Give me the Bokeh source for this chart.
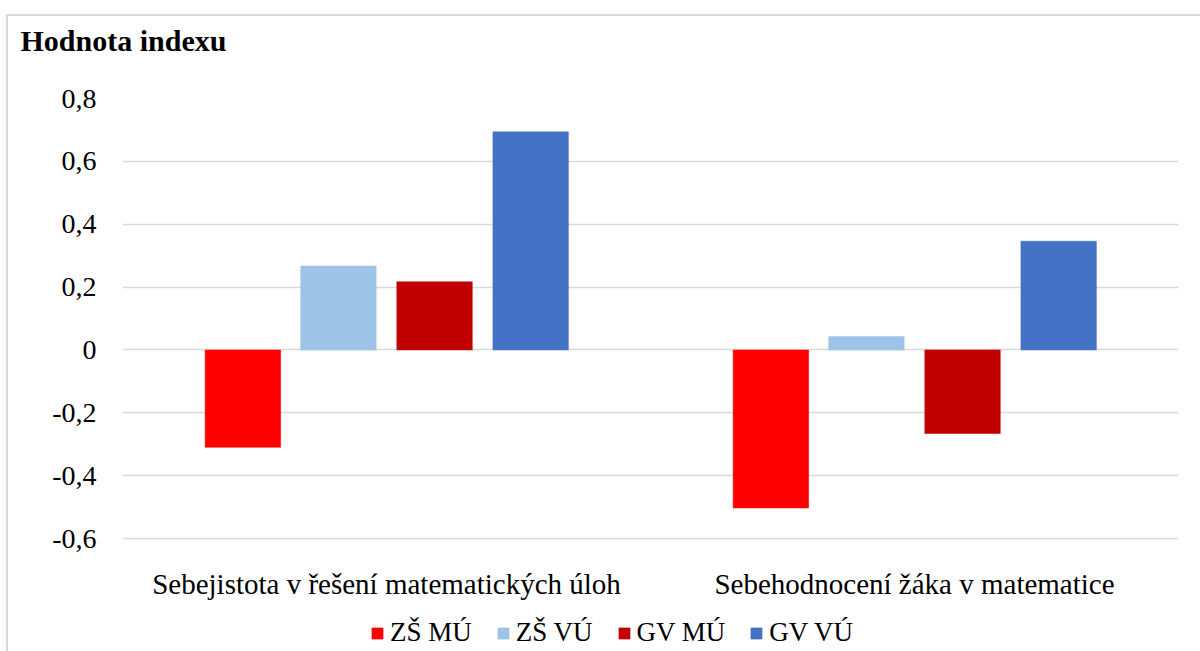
from bokeh.plotting import figure
from bokeh.models import (FactorRange, Range1d, FixedTicker, CustomJSTickFormatter,
                          Legend, LegendItem, Title, ColumnDataSource)
from bokeh.core.properties import value
from bokeh.transform import dodge
from bokeh.embed import file_html
from bokeh.resources import INLINE

categories = ["Sebejistota v řešení matematických úloh", "Sebehodnocení žáka v matematice"]
series = ["ZŠ MÚ", "ZŠ VÚ", "GV MÚ", "GV VÚ"]
zs_mu = [-0.31, -0.503]
zs_vu = [0.267, 0.043]
gv_mu = [0.217, -0.266]
gv_vu = [0.694, 0.346]
y_ticks = [-0.6, -0.4, -0.2, 0.0, 0.2, 0.4, 0.6, 0.8]
colors = ["#FF0000", "#9DC3E6", "#C00000", "#4472C4"]

FONT = "'Liberation Serif', 'Times New Roman', serif"
W, H = 1200, 651
TOP, GRID_H = 98, 440          # pixel rows of the value axis (0.8 ... -0.6)
FRAME_H = H - TOP              # plot area reaches the bottom so labels/legend sit inside it
y_max = y_ticks[-1]
y_min = y_max - (y_ticks[-1] - y_ticks[0]) * FRAME_H / GRID_H

source = ColumnDataSource(dict(cat=categories, zs_mu=zs_mu, zs_vu=zs_vu, gv_mu=gv_mu, gv_vu=gv_vu,
                               base=[y_ticks[0]] * len(categories)))

p = figure(x_range=FactorRange(factors=categories, range_padding=0),
           y_range=Range1d(y_min, y_max), x_axis_location=None,
           width=W, height=H, output_backend="svg", toolbar_location=None,
           min_border_left=122, min_border_right=22, min_border_top=TOP, min_border_bottom=0)
# light grey chart-area box, drawn by the host element behind a transparent canvas
p.styles = {
    "background": ("linear-gradient(#d9d9d9, #d9d9d9) 6px 14px / 100% 2px no-repeat, "
                   "linear-gradient(#d9d9d9, #d9d9d9) 6px 14px / 2px 100% no-repeat, #ffffff"),
}
p.border_fill_color = None
p.background_fill_color = None
p.outline_line_color = None

# spacer between the title and the plot area (sits next to the frame)
p.add_layout(Title(text=" ", text_font=FONT, text_font_size="14px", standoff=20), "above")
p.title.text = "Hodnota indexu"
p.title.align = "left"
p.title.offset = -102
p.title.standoff = 10
p.title.text_font = FONT
p.title.text_font_size = "30px"
p.title.text_font_style = "bold"
p.title.text_color = "#000000"

offsets = [-0.272, -0.091, 0.091, 0.273]
cols = ["zs_mu", "zs_vu", "gv_mu", "gv_vu"]
renderers = []
for col, off, c in zip(cols, offsets, colors):
    r = p.vbar(x=dodge("cat", off, range=p.x_range), top=col, bottom=0, width=0.143,
               source=source, fill_color=c, line_color=c, line_width=0.5)
    renderers.append(r)

# category labels under the lowest gridline
p.text(x="cat", y="base", text="cat", source=source, y_offset=45,
       text_align="center", text_baseline="alphabetic",
       text_font=value(FONT), text_font_size="29px", text_color="#000000")

p.xgrid.grid_line_color = None
p.ygrid.grid_line_color = "#d9d9d9"
p.ygrid.grid_line_width = 1.5

yax = p.yaxis[0]
yax.ticker = FixedTicker(ticks=y_ticks)
yax.formatter = CustomJSTickFormatter(code="""
if (Math.abs(tick) < 1e-9) return '0';
return tick.toFixed(1).replace('.', ',');
""")
yax.axis_line_color = None
yax.major_tick_line_color = None
yax.minor_tick_line_color = None
yax.major_tick_out = 0
yax.major_tick_in = 0
yax.major_label_text_font = FONT
yax.major_label_text_color = "#000000"
yax.major_label_text_font_size = "28px"
yax.major_label_standoff = 26

legend = Legend(items=[LegendItem(label=s, renderers=[r]) for s, r in zip(series, renderers)],
                orientation="horizontal", location=(248, 3),
                glyph_width=14, glyph_height=14, label_standoff=6, spacing=24,
                padding=0, margin=0, border_line_color=None, background_fill_alpha=0,
                label_text_font=FONT, label_text_font_size="27px", label_text_color="#000000")
p.add_layout(legend, "center")

open("out.html", "w").write(file_html(p, INLINE))
